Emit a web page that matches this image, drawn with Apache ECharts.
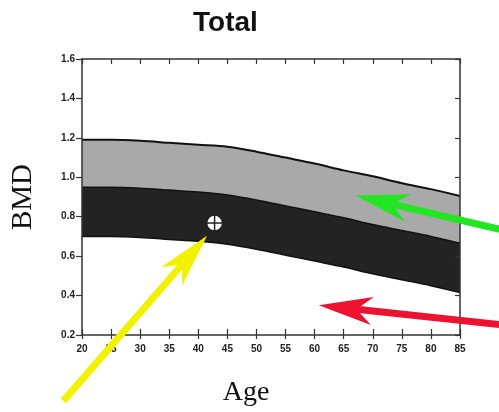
<!DOCTYPE html>
<html>
<head>
<meta charset="utf-8">
<script src="https://cdn.jsdelivr.net/npm/echarts@6/dist/echarts.min.js"></script>
<style>html,body{margin:0;padding:0;background:#fff}#c{width:499px;height:412px}</style>
</head>
<body>
<div id="c"></div>
<script>
// ---- data ----
const ages = [20, 25, 30, 35, 40, 45, 50, 55, 60, 65, 70, 75, 80, 85];
const bandTop = [1.19, 1.19, 1.185, 1.175, 1.165, 1.155, 1.13, 1.10, 1.07, 1.035, 1.005, 0.97, 0.94, 0.905];
const bandMid = [0.95, 0.95, 0.945, 0.935, 0.925, 0.91, 0.885, 0.855, 0.825, 0.795, 0.76, 0.73, 0.70, 0.665];
const bandLow = [0.70, 0.70, 0.695, 0.685, 0.675, 0.66, 0.635, 0.605, 0.575, 0.545, 0.51, 0.48, 0.45, 0.415];
const patient = [42.8, 0.768];
const xTicks = [20, 25, 30, 35, 40, 45, 50, 55, 60, 65, 70, 75, 80, 85];
const yTicks = [0.2, 0.4, 0.6, 0.8, 1.0, 1.2, 1.4, 1.6];
// arrows: [tail age, tail BMD, tip age, tip BMD]
const arrowGreen = [91.8, 0.736, 67.0, 0.908];
const arrowRed = [91.8, 0.253, 60.7, 0.351];
const arrowYellow = [16.8, -0.134, 41.5, 0.703];

const chart = echarts.init(document.getElementById('c'), null, {renderer: 'canvas'});
const pts = arr => ages.map((a, i) => [a, arr[i]]);

const axisCol = '#333';
const tickFont = {fontFamily: "'Liberation Sans Narrow','Liberation Sans',sans-serif", fontSize: 10, color: '#222', fontWeight: 'bold'};

const option = {
  animation: false,
  backgroundColor: '#fff',
  title: {
    text: 'Total', left: 188, top: 4,
    textStyle: {fontFamily: "'Liberation Sans',Arial,sans-serif", fontSize: 28, fontWeight: 'bold', color: '#111'}
  },
  grid: {left: 82, right: 39, top: 59, bottom: 68},
  xAxis: [
    {type: 'value', min: 20, max: 85, interval: 5, position: 'bottom', z: 20,
     axisLine: {lineStyle: {color: axisCol, width: 1.5}},
     axisTick: {inside: false, length: 4, lineStyle: {color: axisCol, width: 1.2}},
     axisLabel: Object.assign({margin: 9, formatter: v => String(v)}, tickFont),
     splitLine: {show: false},
     name: 'Age', nameLocation: 'middle', nameGap: 44,
     nameTextStyle: {fontFamily: "'Liberation Serif','Times New Roman',serif", fontSize: 28, color: '#111', padding: [0, 50, 0, 0]}},
    {type: 'value', min: 20, max: 85, interval: 5, position: 'bottom', z: 20,
     axisLine: {show: false}, axisTick: {inside: true, length: 6, lineStyle: {color: axisCol, width: 1.2}},
     axisLabel: {show: false}, splitLine: {show: false}},
    {type: 'value', min: 20, max: 85, interval: 5, position: 'top', z: 20,
     axisLine: {lineStyle: {color: axisCol, width: 1.5}},
     axisTick: {inside: true, length: 5, lineStyle: {color: axisCol, width: 1.2}},
     axisLabel: {show: false}, splitLine: {show: false}}
  ],
  yAxis: [
    {type: 'value', min: 0.2, max: 1.6, interval: 0.2, position: 'left', z: 20,
     axisLine: {lineStyle: {color: axisCol, width: 1.5}},
     axisTick: {inside: false, length: 6, lineStyle: {color: axisCol, width: 1.2}},
     axisLabel: Object.assign({margin: 7, formatter: v => v.toFixed(1)}, tickFont),
     splitLine: {show: false},
     name: 'BMD', nameLocation: 'middle', nameGap: 44, nameRotate: 90,
     nameTextStyle: {fontFamily: "'Liberation Serif','Times New Roman',serif", fontSize: 29, color: '#111'}},
    {type: 'value', min: 0.2, max: 1.6, interval: 0.2, position: 'right', z: 20,
     axisLine: {lineStyle: {color: axisCol, width: 1.5}},
     axisTick: {inside: true, length: 5, lineStyle: {color: axisCol, width: 1.2}},
     axisLabel: {show: false}, splitLine: {show: false}}
  ],
  series: [
    {type: 'line', data: pts(bandTop), symbol: 'none', smooth: 0.3, z: 2,
     lineStyle: {color: '#111', width: 2}, areaStyle: {color: '#a9a9a9', opacity: 1, origin: 'start'}},
    {type: 'line', data: pts(bandMid), symbol: 'none', smooth: 0.3, z: 3,
     lineStyle: {color: '#111', width: 1.5}, areaStyle: {color: '#232323', opacity: 1, origin: 'start'}},
    {type: 'line', data: pts(bandLow), symbol: 'none', smooth: 0.3, z: 4,
     lineStyle: {color: '#111', width: 1.5}, areaStyle: {color: '#ffffff', opacity: 1, origin: 'start'}},
    {type: 'custom', z: 10, data: [patient],
     renderItem: function (params, api) {
       const p = api.coord([api.value(0), api.value(1)]);
       const r = 8;
       return {type: 'group', children: [
         {type: 'circle', shape: {cx: p[0], cy: p[1], r: r}, style: {fill: '#fff', stroke: '#222', lineWidth: 1.5}},
         {type: 'line', shape: {x1: p[0] - r, y1: p[1], x2: p[0] + r, y2: p[1]}, style: {stroke: '#222', lineWidth: 1.5}},
         {type: 'line', shape: {x1: p[0], y1: p[1] - r, x2: p[0], y2: p[1] + r}, style: {stroke: '#222', lineWidth: 1.5}}
       ]};
     }}
  ]
};
chart.setOption(option);

function arrowGraphic(a, color) {
  const tail = chart.convertToPixel({gridIndex: 0}, [a[0], a[1]]);
  const tip = chart.convertToPixel({gridIndex: 0}, [a[2], a[3]]);
  const dx = tail[0] - tip[0], dy = tail[1] - tip[1];
  const L = Math.hypot(dx, dy);
  const ux = dx / L, uy = dy / L, nx = -uy, ny = ux;
  const hl = 54, hw = 14, notch = 38;
  const b1 = [tip[0] + ux * hl + nx * hw, tip[1] + uy * hl + ny * hw];
  const b2 = [tip[0] + ux * hl - nx * hw, tip[1] + uy * hl - ny * hw];
  const nt = [tip[0] + ux * notch, tip[1] + uy * notch];
  return [
    {type: 'line', z: 50, shape: {x1: nt[0], y1: nt[1], x2: tail[0], y2: tail[1]}, style: {stroke: color, lineWidth: 7}},
    {type: 'polygon', z: 50, shape: {points: [tip, b1, nt, b2]}, style: {fill: color}}
  ];
}
chart.setOption({graphic: [].concat(
  arrowGraphic(arrowGreen, '#22e622'),
  arrowGraphic(arrowRed, '#ec1230'),
  arrowGraphic(arrowYellow, '#f2f200')
)});
</script>
</body>
</html>
